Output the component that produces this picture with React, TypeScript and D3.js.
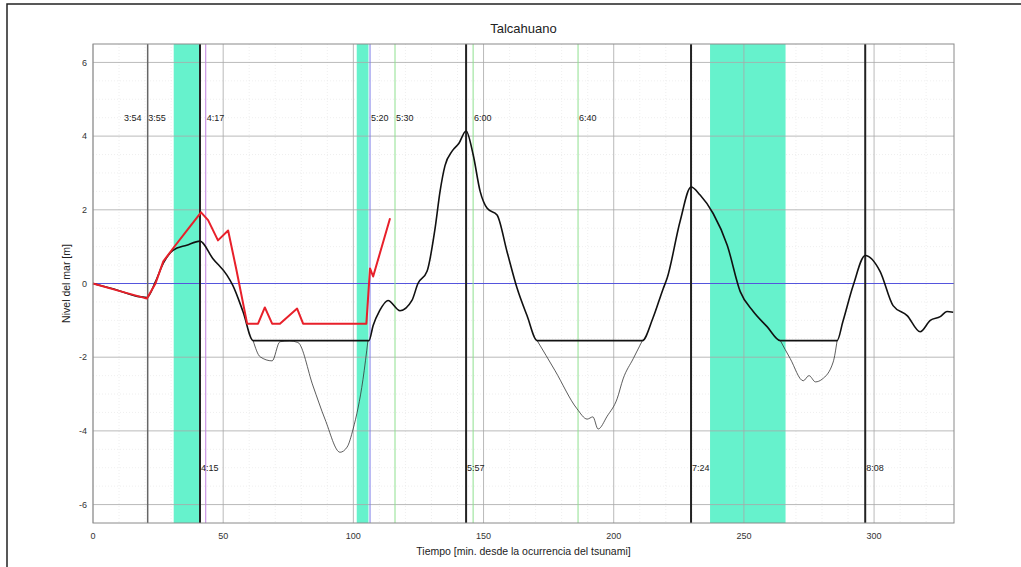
import { useRef, useEffect } from 'react'
import * as d3 from 'd3'

// observed record (red)
const observed: [number, number][] = [
  [0, 0], [10, -0.2], [20.7, -0.41], [24, 0], [27, 0.6], [30.7, 0.95], [37.3, 1.55],
  [41.5, 1.93], [44.2, 1.72], [48, 1.17], [51.9, 1.44], [55, 0.4], [59.2, -1.09],
  [63.4, -1.09], [66, -0.65], [68.8, -1.09], [71.8, -1.09], [78.4, -0.68], [80.7, -1.09],
  [105, -1.09], [106.4, 0.41], [107.6, 0.19], [114.1, 1.77],
]

// simulated level, clipped at the sensor floor (thick black)
const simulated: [number, number][] = [
  [0, 0], [8, -0.15], [17, -0.35], [20.7, -0.38], [24, 0.05], [27, 0.55], [30.7, 0.9], [36, 1.04],
  [41.1, 1.15], [46, 0.68], [51.5, 0.22], [53.7, -0.05], [57.6, -0.76], [61.5, -1.55],
  [106, -1.55], [107.6, -1.14], [110, -0.75], [113.3, -0.46], [117.9, -0.74], [122.5, -0.46],
  [124.8, 0], [128.3, 0.33], [131.4, 1.5], [133.3, 2.5], [135.2, 3.2], [138, 3.6], [140.5, 3.8],
  [143.3, 4.14], [146, 3.5], [148.7, 2.5], [151.4, 2.04], [155.2, 1.86], [159, 0.87],
  [162.9, -0.13], [166.7, -0.87], [170.6, -1.55], [211, -1.55], [215, -0.95],
  [219, -0.14], [220.5, 0.14], [225.5, 1.69], [229.7, 2.62], [233.2, 2.4], [238.2, 1.9],
  [243.6, 1.04], [248.6, -0.22], [253.6, -0.76], [258.9, -1.17], [264, -1.55],
  [285.8, -1.55], [288, -1.04], [292, -0.05], [296.6, 0.76], [302.3, 0.33], [307.3, -0.6],
  [312.7, -0.87], [317.7, -1.31], [321.6, -1.0], [325.4, -0.9], [328, -0.76], [330.4, -0.78],
]

// simulated troughs below the floor (thin black)
const trough1: [number, number][] = [
  [61.5, -1.55], [64.2, -1.99], [68.8, -2.1], [71.8, -1.58], [75.6, -1.56], [78.7, -1.6],
  [84.5, -2.78], [89.1, -3.68], [94.9, -4.58], [97.6, -4.44], [99.9, -3.95],
  [103.7, -2.6], [105.6, -1.55],
]
const trough2: [number, number][] = [
  [170.6, -1.55], [177.5, -2.37], [185.9, -3.4], [189.8, -3.68], [192, -3.62],
  [194, -3.95], [197.5, -3.6], [201.3, -3.13], [203.6, -2.59], [207.5, -2.04], [211, -1.55],
]
const trough3: [number, number][] = [
  [264, -1.55], [267.8, -2.04], [272.8, -2.64], [275, -2.5], [277.5, -2.67], [280, -2.6],
  [284.3, -2.13], [285.8, -1.55],
]

// cyan shaded windows [start, end] in minutes
const bands: [number, number][] = [[31, 40.7], [101.3, 105.8], [237, 266]]

// vertical markers
const darkMarkers = [21, 41.1, 143.3, 229.7, 296.6]
const purpleMarkers = [43.3]
const blueMarkers = [106.4]
const greenMarkers = [116, 146, 186.3]

const topLabels: [number, string][] = [
  [11.5, '3:54'], [20.8, '3:55'], [43.3, '4:17'], [106.4, '5:20'], [116, '5:30'],
  [146, '6:00'], [186.3, '6:40'],
]
const bottomLabels: [number, string][] = [
  [41.1, '4:15'], [143.3, '5:57'], [229.7, '7:24'], [296.6, '8:08'],
]

const xTicks = [0, 50, 100, 150, 200, 250, 300]
const yTicks = [-6, -4, -2, 0, 2, 4, 6]

export default function App() {
  const svgRef = useRef<SVGSVGElement>(null)

  useEffect(() => {
    if (!svgRef.current) return
    const svg = d3.select(svgRef.current)
    svg.selectAll('*').remove()

    const W = 1021
    const H = 567
    const margin = { top: 44, right: 67, bottom: 44, left: 93 }
    const width = W - margin.left - margin.right
    const height = H - margin.top - margin.bottom
    const font = 'Liberation Sans, Arial, sans-serif'

    svg.attr('width', W).attr('height', H).style('font-family', font)

    svg.append('rect').attr('width', W).attr('height', H).attr('fill', '#fff')
    // outer frame
    svg.append('rect')
      .attr('x', 7).attr('y', 4).attr('width', W + 10).attr('height', H + 10)
      .attr('fill', 'none').attr('stroke', '#222').attr('stroke-width', 1.5)

    const g = svg.append('g').attr('transform', `translate(${margin.left},${margin.top})`)

    const x = d3.scaleLinear().domain([0, 330.7]).range([0, width])
    const y = d3.scaleLinear().domain([-6.5, 6.5]).range([height, 0])

    // minor grid
    for (let t = 10; t < 330; t += 10) {
      if (t % 50 === 0) continue
      g.append('line')
        .attr('x1', x(t)).attr('x2', x(t)).attr('y1', 0).attr('y2', height)
        .attr('stroke', '#e4e4e4').attr('stroke-width', 0.6).attr('stroke-dasharray', '1,2')
    }
    for (let v = -6; v <= 6; v += 0.5) {
      if (v % 2 === 0) continue
      g.append('line')
        .attr('x1', 0).attr('x2', width).attr('y1', y(v)).attr('y2', y(v))
        .attr('stroke', '#e4e4e4').attr('stroke-width', 0.6).attr('stroke-dasharray', '1,2')
    }

    // shaded windows
    g.selectAll('.band')
      .data(bands)
      .join('rect')
      .attr('x', (d) => x(d[0]))
      .attr('y', 0)
      .attr('width', (d) => x(d[1]) - x(d[0]))
      .attr('height', height)
      .attr('fill', '#66f2cc')

    // major grid
    xTicks.forEach((t) => {
      g.append('line')
        .attr('x1', x(t)).attr('x2', x(t)).attr('y1', 0).attr('y2', height)
        .attr('stroke', '#a8a8a8').attr('stroke-width', 0.8)
    })
    yTicks.forEach((v) => {
      g.append('line')
        .attr('x1', 0).attr('x2', width).attr('y1', y(v)).attr('y2', y(v))
        .attr('stroke', '#a8a8a8').attr('stroke-width', 0.8)
    })

    // zero level
    g.append('line')
      .attr('x1', 0).attr('x2', width).attr('y1', y(0)).attr('y2', y(0))
      .attr('stroke', '#5555dd').attr('stroke-width', 1)

    const vline = (ts: number[], color: string, w: number) => {
      ts.forEach((t) => {
        g.append('line')
          .attr('x1', x(t)).attr('x2', x(t)).attr('y1', 0).attr('y2', height)
          .attr('stroke', color).attr('stroke-width', w)
      })
    }
    vline(greenMarkers, '#8fe08f', 1)
    vline(purpleMarkers, '#c080e0', 1)
    vline(blueMarkers, '#7a7ae8', 1)
    vline(darkMarkers.slice(0, 1), '#666', 1.5)
    vline(darkMarkers.slice(1), '#222', 2)

    const line = d3.line<[number, number]>().x((d) => x(d[0])).y((d) => y(d[1]))
    const smooth = d3.line<[number, number]>()
      .x((d) => x(d[0])).y((d) => y(d[1])).curve(d3.curveMonotoneX)

    ;[trough1, trough2, trough3].forEach((seg) => {
      g.append('path').datum(seg).attr('d', smooth)
        .attr('fill', 'none').attr('stroke', '#333').attr('stroke-width', 0.8)
    })
    g.append('path').datum(simulated).attr('d', smooth)
      .attr('fill', 'none').attr('stroke', '#111').attr('stroke-width', 1.6)
    g.append('path').datum(observed).attr('d', line)
      .attr('fill', 'none').attr('stroke', '#e8202a').attr('stroke-width', 2)
      .attr('stroke-linejoin', 'round')

    // axes box
    g.append('rect')
      .attr('width', width).attr('height', height)
      .attr('fill', 'none').attr('stroke', '#8a8a8a').attr('stroke-width', 1)

    // tick labels
    g.selectAll('.xt')
      .data(xTicks)
      .join('text')
      .attr('x', (d) => x(d))
      .attr('y', height + 16)
      .attr('text-anchor', 'middle')
      .attr('font-size', 9)
      .attr('fill', '#333')
      .text((d) => d)
    g.selectAll('.yt')
      .data(yTicks)
      .join('text')
      .attr('x', -6)
      .attr('y', (d) => y(d))
      .attr('dy', '0.35em')
      .attr('text-anchor', 'end')
      .attr('font-size', 9)
      .attr('fill', '#333')
      .text((d) => d)

    // annotations
    g.selectAll('.tl')
      .data(topLabels)
      .join('text')
      .attr('x', (d) => x(d[0]) + 1)
      .attr('y', y(4.5))
      .attr('dy', '0.35em')
      .attr('font-size', 9)
      .attr('fill', '#222')
      .text((d) => d[1])
    g.selectAll('.bl')
      .data(bottomLabels)
      .join('text')
      .attr('x', (d) => x(d[0]) + 1)
      .attr('y', y(-5))
      .attr('dy', '0.35em')
      .attr('font-size', 9)
      .attr('fill', '#222')
      .text((d) => d[1])

    // titles
    svg.append('text')
      .attr('x', margin.left + width / 2).attr('y', 28)
      .attr('dy', '0.35em').attr('text-anchor', 'middle')
      .attr('font-size', 13).attr('fill', '#222')
      .text('Talcahuano')
    svg.append('text')
      .attr('x', margin.left + width / 2).attr('y', 551)
      .attr('dy', '0.35em').attr('text-anchor', 'middle')
      .attr('font-size', 10.5).attr('fill', '#222')
      .text('Tiempo [min. desde la ocurrencia del tsunami]')
    svg.append('text')
      .attr('transform', `translate(66,${margin.top + height / 2}) rotate(-90)`)
      .attr('dy', '0.35em').attr('text-anchor', 'middle')
      .attr('font-size', 10.5).attr('fill', '#222')
      .text('Nivel del mar [m]')
  }, [])

  return (
    <div style={{ position: 'absolute', left: 0, top: 0 }}>
      <svg ref={svgRef} style={{ display: 'block' }} />
    </div>
  )
}
